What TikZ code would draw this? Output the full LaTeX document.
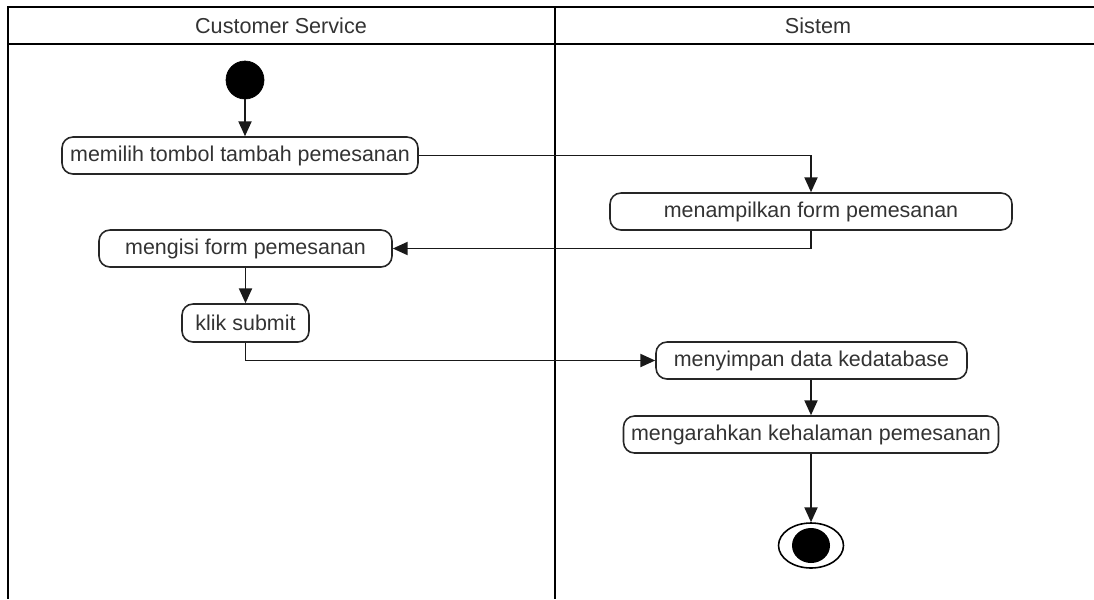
\documentclass[tikz,border=0pt]{standalone}
\usepackage{fontspec}
\setmainfont{Liberation Sans}
\usetikzlibrary{arrows.meta,shapes.geometric}
\begin{document}
\begin{tikzpicture}[x=0.02cm,y=-0.02cm,
  lane/.style={line width=1.1pt,draw=black},
  act/.style={draw=black!85,line width=0.9pt,rounded corners=2.2mm,rectangle,
    inner sep=0pt,minimum height=37*0.02cm,text=black!80,
    font=\fontsize{12.2}{14}\selectfont},
  flow/.style={draw=black!90,line width=0.9pt,-{Triangle[length=8.5pt,width=7.5pt]}},
  lanetitle/.style={text=black!80,font=\fontsize{12.3}{14}\selectfont}]
  \useasboundingbox (0,0) rectangle (1094,599);
  \fill[white] (0,0) rectangle (1094,599);

  % swimlane frame
  \draw[lane] (1094,7) -- (8,7) -- (8,599);
  \draw[lane] (8,44) -- (1094,44);
  \draw[lane] (555,7) -- (555,599);
  \node[lanetitle] (laneCS) at (281,26) {Customer Service};
  \node[lanetitle] (laneSys) at (818,26) {Sistem};

  % initial node
  \node[circle,fill=black,draw=black,minimum size=38*0.02cm,inner sep=0pt] (start) at (245,80) {};

  % actions
  \node[act,minimum width=356*0.02cm] (a1) at (240,155.5) {memilih tombol tambah pemesanan};
  \node[act,minimum width=402*0.02cm] (a2) at (811,211.5) {menampilkan form pemesanan};
  \node[act,minimum width=293*0.02cm] (a3) at (245.5,248.5) {mengisi form pemesanan};
  \node[act,minimum width=127*0.02cm,minimum height=38*0.02cm] (a4) at (245.5,323) {klik submit};
  \node[act,minimum width=311*0.02cm] (a5) at (811.5,360.5) {menyimpan data kedatabase};
  \node[act,minimum width=375*0.02cm] (a6) at (811,434.5) {mengarahkan kehalaman pemesanan};

  % final node
  \node[ellipse,draw=black,line width=0.9pt,minimum width=65*0.02cm,minimum height=45*0.02cm,inner sep=0pt] (stop) at (811,545.5) {};
  \node[ellipse,fill=black,minimum width=38*0.02cm,minimum height=35*0.02cm,inner sep=0pt] (stopdot) at (811,545.5) {};

  % control flow
  \draw[flow] (start.south) -- (start.south |- a1.north);
  \draw[flow] (a1.east) -| (a2.north);
  \draw[flow] (a2.south) |- (a3.east);
  \draw[flow] (a3.south -| a4.north) -- (a4.north);
  \draw[flow] (a4.south) |- (a5.west);
  \draw[flow] (a5.south -| a6.north) -- (a6.north);
  \draw[flow] (a6.south) -- (stop.north);
\end{tikzpicture}
\end{document}
